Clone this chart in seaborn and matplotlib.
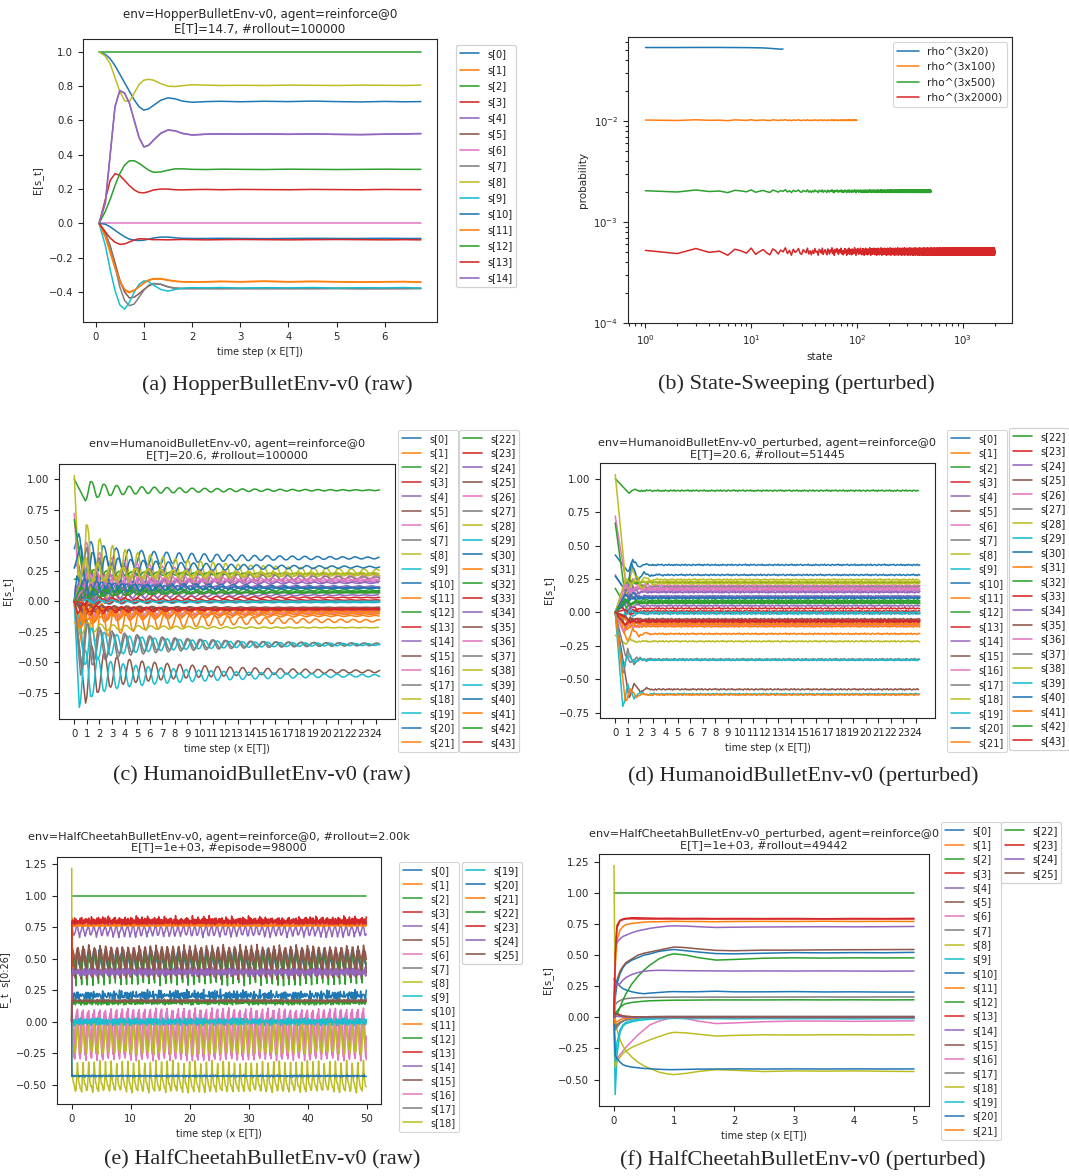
import numpy as np
import seaborn as sns
import matplotlib
matplotlib.use("Agg")
import matplotlib.pyplot as plt

W, H = 1069, 1176
LW = 1.1

hopper_t = [0.07, 0.2, 0.3, 0.4, 0.5, 0.6, 0.7, 0.8, 0.9, 1.0, 1.1, 1.2, 1.35, 1.5,
            1.65, 1.8, 2.0, 2.3, 2.6, 3.0, 3.5, 4.0, 4.5, 5.0, 5.5, 6.0, 6.4, 6.75]
hopper_vals = [
    [1.0, 0.985, 0.96, 0.92, 0.87, 0.82, 0.77, 0.72, 0.68, 0.66, 0.668, 0.688, 0.718, 0.732, 0.726, 0.713, 0.706, 0.71, 0.712, 0.709, 0.712, 0.71, 0.713, 0.71, 0.708, 0.711, 0.709, 0.71],
    [0.0, -0.08, -0.17, -0.26, -0.34, -0.39, -0.405, -0.39, -0.37, -0.345, -0.33, -0.322, -0.322, -0.33, -0.337, -0.34, -0.342, -0.34, -0.338, -0.34, -0.337, -0.34, -0.338, -0.34, -0.342, -0.34, -0.339, -0.342],
    [1.0] * 28,
    [0.0, 0.14, 0.25, 0.29, 0.28, 0.25, 0.22, 0.195, 0.18, 0.178, 0.185, 0.195, 0.2, 0.2, 0.196, 0.195, 0.197, 0.198, 0.196, 0.198, 0.197, 0.196, 0.198, 0.197, 0.196, 0.198, 0.197, 0.197],
    [0.0, 0.12, 0.4, 0.68, 0.775, 0.76, 0.7, 0.6, 0.5, 0.445, 0.455, 0.485, 0.525, 0.545, 0.54, 0.525, 0.515, 0.52, 0.522, 0.52, 0.522, 0.52, 0.521, 0.519, 0.517, 0.52, 0.522, 0.524],
    [0.0, -0.06, -0.13, -0.23, -0.33, -0.4, -0.435, -0.43, -0.41, -0.385, -0.365, -0.352, -0.355, -0.37, -0.378, -0.38, -0.38, -0.379, -0.381, -0.38, -0.379, -0.381, -0.38, -0.379, -0.38, -0.381, -0.38, -0.379],
    [0.0] * 28,
    [0.0, -0.05, -0.14, -0.25, -0.37, -0.45, -0.48, -0.47, -0.43, -0.39, -0.36, -0.35, -0.355, -0.37, -0.378, -0.38, -0.38, -0.381, -0.379, -0.38, -0.381, -0.379, -0.38, -0.38, -0.381, -0.379, -0.38, -0.38],
    [1.0, 0.975, 0.93, 0.85, 0.77, 0.715, 0.71, 0.76, 0.81, 0.835, 0.84, 0.835, 0.815, 0.8, 0.798, 0.803, 0.808, 0.806, 0.804, 0.805, 0.804, 0.806, 0.805, 0.804, 0.806, 0.805, 0.804, 0.806],
    [0.0, -0.13, -0.27, -0.39, -0.475, -0.5, -0.46, -0.4, -0.355, -0.335, -0.34, -0.36, -0.385, -0.395, -0.385, -0.378, -0.375, -0.376, -0.374, -0.377, -0.375, -0.376, -0.374, -0.377, -0.375, -0.376, -0.374, -0.377],
    [0.0, -0.005, -0.02, -0.04, -0.06, -0.078, -0.092, -0.098, -0.1, -0.098, -0.092, -0.085, -0.08, -0.08, -0.084, -0.087, -0.088, -0.088, -0.087, -0.088, -0.089, -0.088, -0.087, -0.088, -0.088, -0.087, -0.088, -0.088],
    [0.0, -0.075, -0.165, -0.255, -0.335, -0.385, -0.4, -0.39, -0.37, -0.348, -0.332, -0.325, -0.324, -0.332, -0.338, -0.341, -0.342, -0.341, -0.339, -0.341, -0.338, -0.341, -0.339, -0.341, -0.343, -0.341, -0.34, -0.343],
    [0.0, 0.07, 0.14, 0.22, 0.29, 0.34, 0.365, 0.365, 0.35, 0.33, 0.31, 0.298, 0.3, 0.31, 0.318, 0.318, 0.315, 0.314, 0.316, 0.315, 0.314, 0.316, 0.315, 0.314, 0.315, 0.316, 0.315, 0.315],
    [0.0, -0.05, -0.085, -0.11, -0.122, -0.12, -0.108, -0.097, -0.09, -0.09, -0.093, -0.095, -0.095, -0.096, -0.095, -0.094, -0.095, -0.096, -0.095, -0.094, -0.095, -0.096, -0.095, -0.094, -0.095, -0.096, -0.095, -0.096],
    [0.0, 0.12, 0.4, 0.68, 0.774, 0.758, 0.7, 0.6, 0.5, 0.446, 0.456, 0.486, 0.526, 0.544, 0.539, 0.524, 0.516, 0.52, 0.521, 0.52, 0.521, 0.519, 0.521, 0.519, 0.518, 0.52, 0.521, 0.523],
]

# (b) state sweeping: per-state probability ~ 1/N, with small wiggles
sweep_labels = ["rho^(3x20)", "rho^(3x100)", "rho^(3x500)", "rho^(3x2000)"]
sweep_sizes = [20, 100, 500, 2000]
sweep_levels = [0.0532, 0.0102, 0.00202, 0.00051]
sweep_wiggle = [0.0, 0.012, 0.035, 0.09]
sweep_first = [0.0535, 0.0535, 0.0536, 0.0536, 0.0536, 0.0535, 0.0535, 0.0534, 0.0534, 0.0533,
               0.0532, 0.0531, 0.053, 0.0528, 0.0525, 0.0522, 0.052, 0.0517, 0.0515, 0.0517]

# hand-read wiggle pattern, reused for the noisy traces
jitter = [0.3, -0.5, 0.8, -0.2, 0.1, -0.9, 0.6, 0.2, -0.4, 0.9, -0.7, 0.0, 0.5, -0.3, -0.8, 0.7, 0.2, -0.6, 0.4,
          -0.1, 1.0, -0.5, 0.3, -0.9, 0.6, -0.2, 0.1, 0.8, -0.4, -0.7, 0.5, 0.0, -0.3, 0.9, -0.6, 0.2, -0.8]

# (c)/(d) HumanoidBulletEnv-v0: start value, settled level, first swing, time of first swing
hum_start = [0.43, 0.0, 1.0, 0.0, 0.28, 0.0, 0.72, 0.0, 1.03, 0.0,
             0.27, 0.0, 0.67, 0.0, 0.0, 0.0, 0.0, 0.0, -0.17, 0.0,
             0.0, 0.0, 0.18, 0.0, 0.0, 0.0, 0.0, 0.0, 0.0, 0.0,
             0.0, 0.0, 0.0, 0.0, 0.0, 0.0, 0.0, 0.0, 0.0, 0.0,
             0.0, 0.0, 0.0, 0.0]
hum_raw_level = [0.355, -0.16, 0.91, 0.03, 0.16, -0.575, 0.2, -0.355, 0.245, -0.61,
                 0.28, -0.09, 0.225, 0.01, 0.15, -0.07, -0.1, 0.19, -0.216, -0.01,
                 0.12, -0.105, 0.09, 0.0, 0.05, -0.06, 0.18, 0.07, 0.215, 0.0,
                 0.107, -0.085, 0.08, -0.07, 0.12, -0.05, 0.17, -0.35, 0.23, -0.355,
                 0.11, -0.12, 0.07, -0.06]
hum_pert_level = [0.355, -0.16, 0.91, 0.03, 0.16, -0.575, 0.2, -0.355, 0.245, -0.61,
                  0.28, -0.09, 0.225, 0.01, 0.15, -0.07, -0.1, 0.19, -0.216, -0.01,
                  0.12, -0.105, 0.09, 0.0, 0.05, -0.06, 0.18, 0.07, 0.215, 0.0,
                  0.107, -0.085, 0.08, -0.07, 0.12, -0.05, 0.17, -0.35, 0.23, -0.355,
                  0.11, -0.615, 0.07, -0.06]
hum_raw_amp = [0.2, -0.25, -0.087, 0.07, 0.15, -0.26, -0.35, -0.25, -0.47, -0.26,
               0.18, 0.12, 0.05, -0.05, -0.1, 0.05, -0.08, 0.25, -0.05, 0.03,
               0.12, -0.1, 0.1, 0.04, 0.08, -0.04, 0.12, -0.05, 0.15, -0.02,
               0.1, 0.08, -0.08, 0.05, 0.06, 0.03, -0.08, -0.2, -0.12, 0.2,
               0.08, -0.1, 0.05, -0.04]
hum_raw_phase = [0.35, 0.7, 0.88, 0.3, 0.3, 0.9, 0.5, 0.5, 0.55, 0.4,
                 0.5, 0.2, 0.6, 0.5, 0.6, 0.4, 0.4, 1.0, 0.6, 0.3,
                 0.7, 0.6, 0.5, 0.3, 0.1, 0.7, 0.75, 0.4, 0.9, 0.5,
                 0.2, 0.6, 0.3, 0.8, 0.45, 0.2, 0.65, 0.6, 0.35, 0.4,
                 0.8, 0.45, 0.55, 0.25]
hum_pert_amp = [-0.05, -0.05, -0.015, 0.04, -0.04, -0.06, -0.07, -0.1, -0.12, -0.09,
                -0.12, 0.08, -0.03, 0.03, -0.03, 0.05, -0.04, 0.04, -0.02, -0.06,
                -0.04, 0.03, -0.05, 0.02, 0.03, -0.03, 0.03, 0.02, 0.06, -0.02,
                -0.03, 0.03, 0.02, -0.02, 0.02, 0.02, 0.03, 0.03, 0.02, -0.05,
                0.02, -0.05, 0.02, 0.02]
hum_pert_phase = [1.0, 1.0, 1.1, 0.4, 1.0, 1.1, 1.0, 0.6, 0.95, 0.6,
                  0.9, 0.3, 0.7, 0.5, 0.8, 0.4, 0.6, 1.2, 0.8, 0.5,
                  1.0, 0.5, 0.9, 0.8, 0.8, 0.8, 0.8, 0.8, 1.7, 0.8,
                  0.8, 0.8, 0.8, 0.8, 0.8, 0.8, 0.8, 0.8, 0.8, 0.6,
                  0.8, 0.8, 0.8, 0.8]
# swing size per half period (period ~ 1 x E[T])
hum_raw_env = [1.0, 0.8, 0.66, 0.57, 0.5, 0.45, 0.41, 0.38, 0.35, 0.33, 0.31, 0.29, 0.27, 0.255, 0.24,
               0.225, 0.21, 0.2, 0.19, 0.18, 0.17, 0.16, 0.15, 0.14, 0.13, 0.125, 0.12, 0.11, 0.105, 0.1,
               0.095, 0.09, 0.085, 0.08, 0.076, 0.072, 0.068, 0.064, 0.06, 0.057, 0.054, 0.051, 0.048,
               0.045, 0.043, 0.041, 0.039, 0.037, 0.035, 0.033]
hum_pert_env = [1.0, 0.45, 0.2, 0.09, 0.04, 0.02, 0.01, 0.005] + [0.0] * 42
wave_shape = [1.0, 0.81, 0.31, -0.31, -0.81, -1.0, -0.81, -0.31, 0.31, 0.81]

# (e) HalfCheetahBulletEnv-v0 raw: one gait cycle per state (period ~0.95)
cheetah_period = 0.95
cheetah_start = [0.0, 0.0, 1.0, 0.0, 0.0, 0.0, 0.0, 0.0, 1.22, 0.0, 0.0, 0.0, 0.0,
                 0.0, 0.0, 0.0, 0.0, 0.0, 0.0, 0.0, 0.0, 0.0, 0.0, 0.0, 0.0, 0.0]
cheetah_noise = [0.015, 0.004, 0.0, 0.015, 0.012, 0.015, 0.012, 0.008, 0.015, 0.012, 0.02, 0.004, 0.015,
                 0.01, 0.012, 0.015, 0.012, 0.004, 0.012, 0.012, 0.004, 0.004, 0.008, 0.01, 0.01, 0.004]
cheetah_cycle = [
    [0.55, 0.5, 0.47, 0.45, 0.43, 0.42, 0.52, 0.56],
    [0.77, 0.775, 0.765, 0.77, 0.78, 0.77, 0.765, 0.775],
    [1.0, 1.0, 1.0, 1.0, 1.0, 1.0, 1.0, 1.0],
    [0.81, 0.78, 0.8, 0.79, 0.83, 0.79, 0.8, 0.78],
    [0.76, 0.73, 0.7, 0.68, 0.7, 0.72, 0.74, 0.77],
    [0.6, 0.58, 0.56, 0.53, 0.5, 0.47, 0.42, 0.52],
    [0.1, 0.02, -0.08, -0.18, -0.3, -0.22, -0.08, 0.05],
    [0.0, 0.01, -0.01, 0.0, 0.02, -0.01, 0.0, 0.01],
    [-0.32, -0.43, -0.48, -0.5, -0.52, -0.54, -0.55, -0.44],
    [0.01, -0.01, 0.02, -0.02, 0.0, 0.015, -0.015, 0.01],
    [0.2, 0.22, 0.18, 0.21, 0.24, 0.19, 0.2, 0.23],
    [0.0, 0.005, -0.005, 0.0, 0.01, 0.0, -0.01, 0.0],
    [0.55, 0.52, 0.5, 0.48, 0.45, 0.4, 0.3, 0.47],
    [0.79, 0.8, 0.78, 0.8, 0.79, 0.81, 0.79, 0.78],
    [0.42, 0.4, 0.38, 0.37, 0.39, 0.41, 0.4, 0.38],
    [0.58, 0.55, 0.5, 0.45, 0.4, 0.35, 0.45, 0.55],
    [0.0, -0.1, -0.2, -0.27, -0.12, 0.0, 0.06, 0.08],
    [0.17, 0.175, 0.165, 0.17, 0.18, 0.165, 0.17, 0.175],
    [-0.02, -0.1, -0.16, -0.2, -0.23, -0.25, -0.18, -0.08],
    [-0.01, 0.02, 0.0, -0.02, 0.01, 0.02, -0.01, 0.0],
    [-0.43, -0.425, -0.43, -0.435, -0.43, -0.425, -0.43, -0.435],
    [0.76, 0.765, 0.77, 0.76, 0.765, 0.77, 0.76, 0.765],
    [0.15, 0.16, 0.14, 0.15, 0.17, 0.14, 0.15, 0.16],
    [0.8, 0.79, 0.81, 0.8, 0.78, 0.8, 0.82, 0.79],
    [0.38, 0.4, 0.42, 0.39, 0.37, 0.4, 0.41, 0.39],
    [0.16, 0.17, 0.165, 0.16, 0.175, 0.17, 0.16, 0.165],
]

# (f) HalfCheetahBulletEnv-v0 perturbed
cheetah_p_t = [0.0, 0.02, 0.05, 0.1, 0.15, 0.2, 0.3, 0.4, 0.5, 0.6, 0.75, 0.9, 1.0,
               1.2, 1.4, 1.7, 2.0, 2.5, 3.0, 3.5, 4.0, 4.5, 5.0]
cheetah_p_vals = [
    [0.0, 0.15, 0.27, 0.35, 0.4, 0.43, 0.46, 0.48, 0.5, 0.51, 0.53, 0.54, 0.545, 0.535, 0.525, 0.512, 0.51, 0.515, 0.52, 0.518, 0.52, 0.519, 0.522],
    [0.0, 0.4, 0.62, 0.7, 0.73, 0.745, 0.755, 0.76, 0.765, 0.767, 0.768, 0.77, 0.772, 0.77, 0.77, 0.768, 0.77, 0.771, 0.77, 0.772, 0.77, 0.771, 0.77],
    [1.0] * 23,
    [0.0, 0.55, 0.74, 0.78, 0.79, 0.795, 0.8, 0.8, 0.798, 0.797, 0.795, 0.796, 0.795, 0.794, 0.795, 0.793, 0.794, 0.793, 0.794, 0.792, 0.794, 0.793, 0.795],
    [0.0, 0.57, 0.6, 0.63, 0.65, 0.66, 0.68, 0.695, 0.705, 0.715, 0.725, 0.733, 0.735, 0.733, 0.728, 0.722, 0.724, 0.726, 0.727, 0.728, 0.727, 0.728, 0.73],
    [0.0, 0.2, 0.3, 0.37, 0.41, 0.44, 0.47, 0.5, 0.515, 0.525, 0.54, 0.555, 0.565, 0.56, 0.55, 0.538, 0.535, 0.54, 0.54, 0.542, 0.543, 0.544, 0.545],
    [0.0, -0.36, -0.34, -0.3, -0.27, -0.24, -0.19, -0.14, -0.1, -0.06, -0.03, -0.01, 0.0, -0.01, -0.03, -0.05, -0.045, -0.035, -0.03, -0.03, -0.032, -0.03, -0.028],
    [0.0, 0.1, 0.12, 0.135, 0.145, 0.15, 0.155, 0.158, 0.16, 0.16, 0.161, 0.162, 0.162, 0.163, 0.162, 0.163, 0.162, 0.163, 0.163, 0.164, 0.163, 0.164, 0.164],
    [1.22, 0.0, -0.1, -0.18, -0.23, -0.27, -0.32, -0.36, -0.39, -0.41, -0.44, -0.455, -0.46, -0.45, -0.435, -0.42, -0.425, -0.435, -0.43, -0.432, -0.43, -0.433, -0.435],
    [0.0, -0.62, -0.3, -0.12, -0.07, -0.05, -0.035, -0.025, -0.02, -0.015, -0.012, -0.01, -0.008, -0.01, -0.01, -0.01, -0.012, -0.01, -0.011, -0.01, -0.012, -0.01, -0.01],
    [0.0, 0.3, 0.28, 0.25, 0.23, 0.22, 0.205, 0.195, 0.19, 0.195, 0.2, 0.205, 0.207, 0.205, 0.206, 0.21, 0.205, 0.205, 0.207, 0.204, 0.205, 0.203, 0.203],
    [0.0, 0.03, 0.02, 0.01, 0.005, 0.0, -0.004] + [-0.005] * 16,
    [0.0, 0.0, 0.02, 0.08, 0.14, 0.19, 0.27, 0.33, 0.38, 0.42, 0.47, 0.5, 0.51, 0.5, 0.48, 0.46, 0.465, 0.475, 0.478, 0.476, 0.478, 0.477, 0.478],
    [0.0, 0.04, 0.03, 0.02, 0.012, 0.008, 0.005, 0.004] + [0.003] * 15,
    [0.31, 0.28, 0.26, 0.27, 0.3, 0.32, 0.345, 0.36, 0.37, 0.375, 0.378, 0.377, 0.376, 0.375, 0.374, 0.373, 0.372, 0.373, 0.372, 0.373, 0.372, 0.371, 0.372],
    [0.0, -0.08, -0.06, -0.04, -0.03, -0.02, -0.01, -0.005, 0.0, 0.002, 0.004] + [0.005] * 12,
    [0.0, 0.02, 0.015, 0.01, 0.006, 0.004, 0.002, 0.0, -0.002, -0.003] + [-0.004] * 13,
    [0.0, -0.1, -0.08, -0.05, -0.03, -0.02, -0.01, 0.0, 0.004, 0.006, 0.007] + [0.008] * 12,
    [0.0, -0.4, -0.36, -0.32, -0.29, -0.27, -0.24, -0.22, -0.2, -0.18, -0.155, -0.13, -0.12, -0.125, -0.135, -0.15, -0.145, -0.14, -0.142, -0.14, -0.14, -0.141, -0.14],
    [0.0, -0.35, -0.2, -0.1, -0.06, -0.04, -0.025, -0.015, -0.01, -0.008, -0.007] + [-0.006] * 12,
    [0.0, -0.3, -0.33, -0.36, -0.38, -0.39, -0.4, -0.405, -0.41, -0.413, -0.417, -0.42, -0.42, -0.418, -0.416, -0.415, -0.414, -0.415, -0.414, -0.415, -0.414, -0.415, -0.414],
    [0.0, -0.05, -0.035, -0.02, -0.012, -0.008, -0.004, -0.002] + [0.0] * 15,
    [0.0, 0.02, 0.05, 0.08, 0.1, 0.11, 0.12, 0.125, 0.13, 0.133, 0.135, 0.137, 0.138, 0.138, 0.139, 0.14, 0.14, 0.14, 0.141, 0.14, 0.141, 0.14, 0.141],
    [0.0, 0.5, 0.72, 0.775, 0.785, 0.79, 0.792] + [0.79] * 16,
    [0.0, 0.01, 0.008, 0.005, 0.003, 0.002, 0.001] + [0.0] * 16,
    [0.0, 0.03, 0.025, 0.015, 0.01, 0.007, 0.005, 0.004] + [0.003] * 15,
]

captions = ["(a) HopperBulletEnv-v0 (raw)", "(b) State-Sweeping (perturbed)",
            "(c) HumanoidBulletEnv-v0 (raw)", "(d) HumanoidBulletEnv-v0 (perturbed)",
            "(e) HalfCheetahBulletEnv-v0 (raw)", "(f) HalfCheetahBulletEnv-v0 (perturbed)"]
caption_xy = [(277, 385), (796, 384), (262, 776), (803, 776), (262, 1160), (803, 1160)]

##################################################################################################################

sns.set_theme(style="ticks", context="paper")
plt.rcParams.update({
    "font.family": ["DejaVu Sans"],
    "font.size": 7, "axes.titlesize": 8.1, "axes.labelsize": 7,
    "xtick.labelsize": 7.3, "ytick.labelsize": 7.3, "legend.fontsize": 7,
    "axes.linewidth": 0.8, "axes.edgecolor": "0.15",
    "xtick.major.size": 3.5, "ytick.major.size": 3.5,
    "xtick.major.width": 0.8, "ytick.major.width": 0.8,
    "xtick.minor.size": 2, "ytick.minor.size": 2,
    "legend.frameon": True, "legend.framealpha": 0.8, "legend.edgecolor": "0.8",
    "legend.fancybox": True,
})
tab = sns.color_palette("tab10")

fig = plt.figure(figsize=(W / 100, H / 100), dpi=100)


def box(l, t, r, b):
    return [l / W, 1 - b / H, (r - l) / W, (b - t) / H]


def draw(ax, series):
    for i, (x, y) in enumerate(series):
        sns.lineplot(x=np.asarray(x), y=np.asarray(y), ax=ax, color=tab[i % 10], lw=LW,
                     estimator=None, sort=False, legend=False)


def legends(ax, n, splits, anchors, spacing):
    lines = ax.get_lines()
    labels = ["s[%d]" % i for i in range(n)]
    start = 0
    for stop, (px, py) in zip(splits, anchors):
        leg = ax.legend(lines[start:stop], labels[start:stop], loc="upper left",
                        bbox_to_anchor=(px / W, 1 - py / H), bbox_transform=fig.transFigure,
                        borderaxespad=0, handlelength=2.0, labelspacing=spacing)
        ax.add_artist(leg)
        start = stop


def humanoid(i, level, amp, phase, env, noise):
    t = [0.0]
    v = [hum_start[i]]
    j = 0
    while phase[i] + 0.1 * j <= 24.3:
        t.append(phase[i] + 0.1 * j)
        v.append(level[i] + amp[i] * env[j // 5] * wave_shape[j % 10]
                 + noise * jitter[(j + 5 * i) % len(jitter)])
        j += 1
    return t, v


def cheetah(i):
    cyc = cheetah_cycle[i]
    dt = cheetah_period / len(cyc)
    t = [0.0]
    v = [cheetah_start[i]]
    k = 0
    while 0.02 + k * dt <= 50:
        t.append(0.02 + k * dt)
        v.append(cyc[k % len(cyc)] + cheetah_noise[i] * jitter[(k + 3 * i) % len(jitter)])
        k += 1
    return t, v


# (a)
ax = fig.add_axes(box(83, 39, 437, 322))
draw(ax, [(hopper_t, v) for v in hopper_vals])
ax.set_title("env=HopperBulletEnv-v0, agent=reinforce@0\nE[T]=14.7, #rollout=100000",
             pad=4, fontsize=8.6)
ax.set_xlabel("time step (x E[T])")
ax.set_ylabel("E[s_t]")
ax.set_xticks(range(7))
ax.set_yticks([-0.4, -0.2, 0.0, 0.2, 0.4, 0.6, 0.8, 1.0])
legends(ax, 15, [15], [(456, 45)], 0.62)

# (b)
ax = fig.add_axes(box(628, 37, 1012, 323))
for k, n in enumerate(sweep_sizes):
    states = np.arange(1, n + 1)
    if k == 0:
        probs = np.array(sweep_first)
    else:
        wig = np.array([jitter[(s - 1) % len(jitter)] for s in states])
        probs = sweep_levels[k] * (1 + sweep_wiggle[k] * wig)
    sns.lineplot(x=states, y=probs, ax=ax, color=tab[k], lw=LW, estimator=None, sort=False,
                 legend=False)
ax.set_xscale("log")
ax.set_yscale("log")
ax.set_ylim(1e-4, 0.068)
ax.set_xlabel("state", fontsize=7.5)
ax.set_ylabel("probability", fontsize=7.5)
ax.legend(ax.get_lines(), sweep_labels, loc="upper right", fontsize=7.7)

# (c) and (d)
for (l, t, r, b), level, amp, phase, env, noise, title, anchors, spacing in [
    ((59, 464, 395, 719), hum_raw_level, hum_raw_amp, hum_raw_phase, hum_raw_env, 0.0,
     "env=HumanoidBulletEnv-v0, agent=reinforce@0\nE[T]=20.6, #rollout=100000",
     [(398, 430), (459, 430)], 0.46),
    ((600, 463, 935, 718), hum_pert_level, hum_pert_amp, hum_pert_phase, hum_pert_env, 0.006,
     "env=HumanoidBulletEnv-v0_perturbed, agent=reinforce@0\nE[T]=20.6, #rollout=51445",
     [(947, 430), (1009, 428)], 0.46),
]:
    ax = fig.add_axes(box(l, t, r, b))
    draw(ax, [humanoid(i, level, amp, phase, env, noise) for i in range(44)])
    ax.set_title(title, pad=4)
    ax.set_xlabel("time step (x E[T])")
    ax.set_ylabel("E[s_t]")
    ax.set_xticks(range(25))
    ax.set_yticks([-0.75, -0.5, -0.25, 0.0, 0.25, 0.5, 0.75, 1.0])
    legends(ax, 44, [22, 44], anchors, spacing)

# (e)
ax = fig.add_axes(box(57, 857, 381, 1104))
draw(ax, [cheetah(i) for i in range(26)])
ax.set_title("env=HalfCheetahBulletEnv-v0, agent=reinforce@0, #rollout=2.00k\nE[T]=1e+03, #episode=98000", pad=4)
ax.set_xlabel("time step (x E[T])")
ax.set_ylabel("E_t  s[0:26]")
ax.set_yticks([-0.5, -0.25, 0.0, 0.25, 0.5, 0.75, 1.0, 1.25])
legends(ax, 26, [19, 26], [(399, 862), (462, 862)], 0.41)

# (f)
ax = fig.add_axes(box(599, 854, 929, 1106))
draw(ax, [(cheetah_p_t, v) for v in cheetah_p_vals])
ax.set_title("env=HalfCheetahBulletEnv-v0_perturbed, agent=reinforce@0\nE[T]=1e+03, #rollout=49442", pad=4)
ax.set_xlabel("time step (x E[T])")
ax.set_ylabel("E[s_t]")
ax.set_yticks([-0.5, -0.25, 0.0, 0.25, 0.5, 0.75, 1.0, 1.25])
legends(ax, 26, [22, 26], [(941, 822), (1001, 822)], 0.44)

for text, (cx, cy) in zip(captions, caption_xy):
    fig.text(cx / W, 1 - cy / H, text, ha="center", va="center",
             family=["Liberation Serif", "DejaVu Serif"], fontsize=16)

fig.savefig("out.png", dpi=100)
